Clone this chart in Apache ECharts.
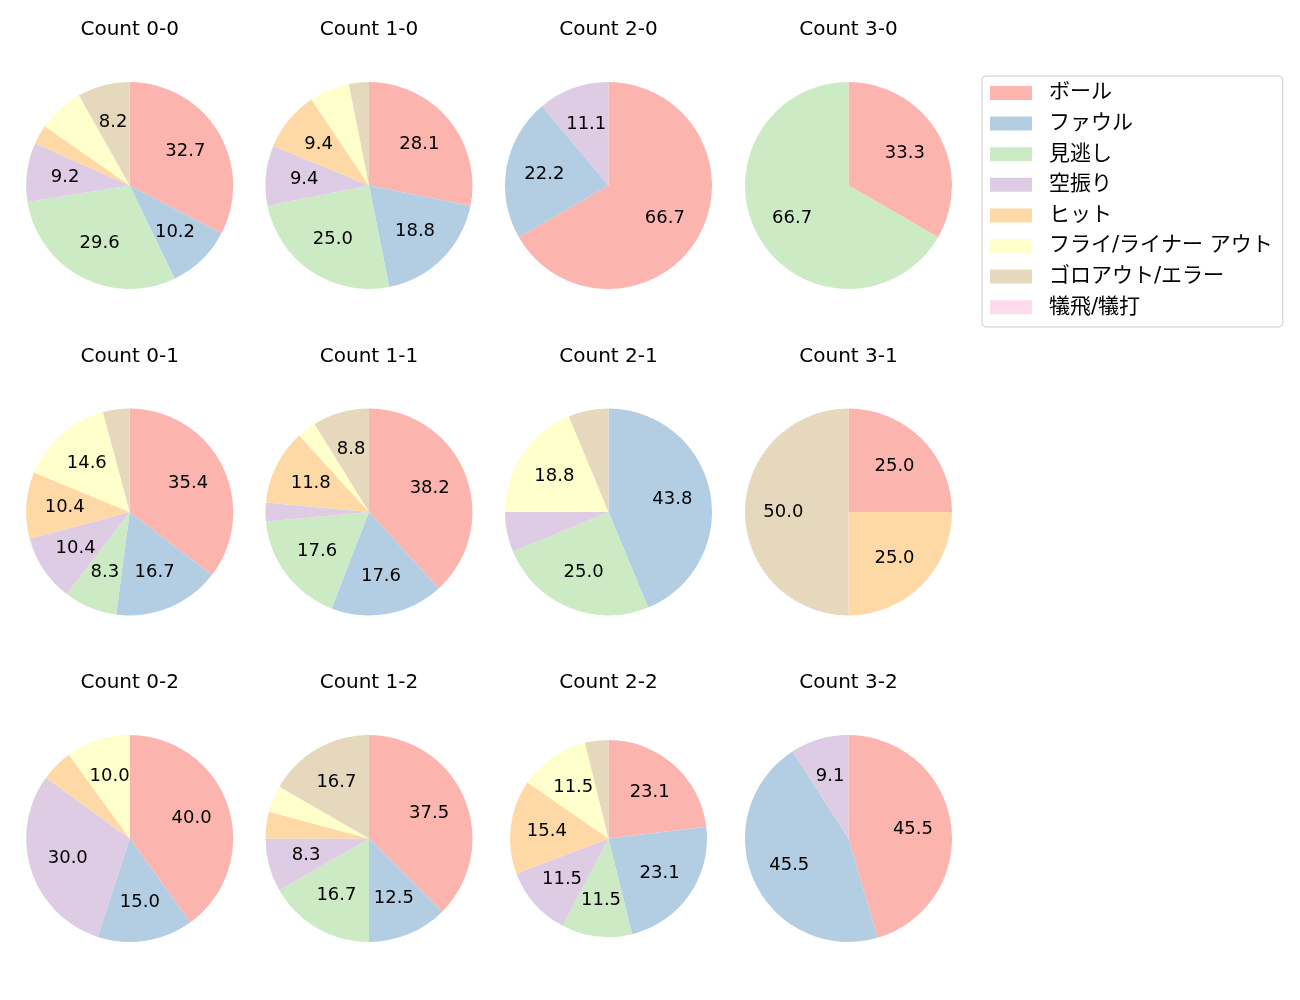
<!DOCTYPE html>
<html>
<head>
<meta charset="utf-8">
<title>Count pies</title>
<script src="https://cdn.jsdelivr.net/npm/echarts@6/dist/echarts.min.js"></script>
<style>
  html, body { margin: 0; padding: 0; background: #fff; }
  #main { width: 1300px; height: 1000px; }
</style>
</head>
<body>
<div id="main"></div>
<script>
// categories (legend order)
var categories = ["ボール", "ファウル", "見逃し", "空振り", "ヒット", "フライ/ライナー アウト", "ゴロアウト/エラー", "犠飛/犠打"];

// pitch counts, row by row
var counts = ["0-0", "1-0", "2-0", "3-0", "0-1", "1-1", "2-1", "3-1", "0-2", "1-2", "2-2", "3-2"];

// number of pitches per category for each count
var v00 = [32, 10, 29, 9, 3, 7, 8, 0];
var v10 = [9, 6, 8, 3, 3, 2, 1, 0];
var v20 = [6, 2, 0, 1, 0, 0, 0, 0];
var v30 = [1, 0, 2, 0, 0, 0, 0, 0];
var v01 = [17, 8, 4, 5, 5, 7, 2, 0];
var v11 = [13, 6, 6, 1, 4, 1, 3, 0];
var v21 = [0, 7, 4, 1, 0, 3, 1, 0];
var v31 = [1, 0, 0, 0, 1, 0, 2, 0];
var v02 = [8, 3, 0, 6, 1, 2, 0, 0];
var v12 = [9, 3, 4, 2, 1, 1, 4, 0];
var v22 = [6, 6, 3, 3, 4, 3, 1, 0];
var v32 = [5, 5, 0, 1, 0, 0, 0, 0];
var values = [v00, v10, v20, v30, v01, v11, v21, v31, v02, v12, v22, v32];

var colors = ["#fbb4ae", "#b3cde3", "#ccebc5", "#decbe4", "#fed9a6", "#ffffcc", "#e5d8bd", "#fddaec"];

var FONT = "'DejaVu Sans', 'Noto Sans CJK JP', sans-serif";
var colX = [129.7, 369, 608.5, 848.5];
var rowY = [185.5, 512, 838.5];
var titleY = [20, 346.5, 673];

var myChart = echarts.init(document.getElementById("main"));

var titles = [];
var series = [];
counts.forEach(function (c, k) {
  var cx = colX[k % 4], cy = rowY[Math.floor(k / 4)];
  var R = c === "2-2" ? 98.5 : 103.5;
  var total = values[k].reduce(function (a, b) { return a + b; }, 0);
  var data = categories.map(function (n, i) {
    return { name: n, value: values[k][i], itemStyle: { color: colors[i] } };
  });
  titles.push({
    text: "Count " + c,
    left: cx, top: titleY[Math.floor(k / 4)],
    textAlign: "center",
    padding: 0,
    textStyle: { fontFamily: FONT, fontSize: 20, fontWeight: "normal", color: "#000" }
  });
  // wedges
  series.push({
    type: "pie",
    center: [cx, cy],
    radius: [0, R],
    startAngle: 90,
    clockwise: true,
    avoidLabelOverlap: false,
    silent: true,
    label: { show: false },
    labelLine: { show: false },
    itemStyle: { borderWidth: 0 },
    data: data
  });
  // percentage labels at 0.6 R (transparent ring so "inside" sits at the right spot)
  series.push({
    type: "pie",
    center: [cx, cy],
    radius: [0.2 * R, R],
    startAngle: 90,
    clockwise: true,
    avoidLabelOverlap: false,
    silent: true,
    legendHoverLink: false,
    labelLine: { show: false },
    itemStyle: { color: "rgba(0,0,0,0)", borderWidth: 0 },
    label: {
      show: true,
      position: "inside",
      fontFamily: FONT,
      fontSize: 18,
      color: "#000",
      formatter: function (p) {
        var pct = p.value / total * 100;
        return pct >= 7.5 ? pct.toFixed(1) : "";
      }
    },
    data: data.map(function (d) { return { name: d.name, value: d.value }; })
  });
});

var option = {
  animation: false,
  title: titles,
  legend: {
    data: categories,
    orient: "vertical",
    left: 982,
    top: 76,
    padding: [6.5, 10, 9.3, 8],
    itemWidth: 42,
    itemHeight: 14,
    itemGap: 9.6,
    icon: "rect",
    borderColor: "#cccccc",
    borderWidth: 1,
    borderRadius: 4,
    selectedMode: false,
    textStyle: { fontFamily: FONT, fontSize: 21, lineHeight: 20, color: "#000", padding: [0, 0, 0, 12] }
  },
  series: series
};

myChart.setOption(option);
window.onresize = myChart.resize;
</script>
</body>
</html>
